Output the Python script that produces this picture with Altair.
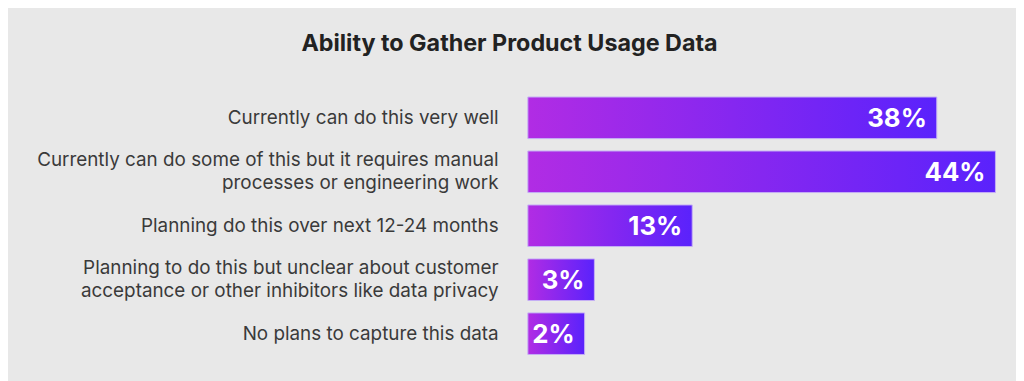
import altair as alt
import pandas as pd

categories = [
    "Currently can do this very well",
    "Currently can do some of this but it requires manual|processes or engineering work",
    "Planning do this over next 12-24 months",
    "Planning to do this but unclear about customer|acceptance or other inhibitors like data privacy",
    "No plans to capture this data",
]
values = [38, 44, 13, 3, 2]
labels = ["38%", "44%", "13%", "3%", "2%"]
baseline = -3.8

df = pd.DataFrame({"cat": categories, "value": values, "label": labels, "base": [baseline] * len(values)})

grad = alt.Gradient(
    gradient="linear",
    stops=[alt.GradientStop(color="#b12ce4", offset=0), alt.GradientStop(color="#5a22fc", offset=1)],
    x1=0, x2=1, y1=0, y2=0,
)

xscale = alt.Scale(domain=[baseline, 46], nice=False, zero=False)
yenc = alt.Y(
    "cat:N", sort=categories, title=None,
    scale=alt.Scale(paddingInner=0.23, paddingOuter=0.115),
    axis=alt.Axis(ticks=False, domain=False, labelPadding=30, labelFontSize=19,
                  labelFont="Inter", labelColor="#3a3a3a", labelLimit=700,
                  labelLineHeight=23, labelExpr="split(datum.label, '|')",
                  labelOffset={"condition": {"test": "indexof(datum.value, '|') >= 0", "value": -11.5},
                               "value": 0}),
)

bars = alt.Chart(df).mark_bar(color=grad, stroke="#c4aef5", strokeWidth=1).encode(
    x=alt.X("base:Q", scale=xscale, axis=None),
    x2="value:Q",
    y=yenc,
)
text = alt.Chart(df).mark_text(align="right", baseline="middle", dx=-10, dy=1, color="white",
                               fontSize=26, fontWeight="bold", font="Inter").encode(
    x=alt.X("value:Q", scale=xscale, axis=None),
    y=alt.Y("cat:N", sort=categories),
    text="label:N",
)

chart = (bars + text).properties(
    width=491, height=272,
    title=alt.TitleParams("Ability to Gather Product Usage Data", anchor="middle", dx=-264,
                          fontSize=23.5, fontWeight="bold", font="Inter", color="#222222", offset=36),
    background="#e8e8e8",
    padding={"left": 524, "top": 82, "right": 1, "bottom": 19},
    autosize=alt.AutoSizeParams(type="none"),
).configure_view(stroke=None)

chart.save("out.html", embed_options={"renderer": "svg", "actions": False})
